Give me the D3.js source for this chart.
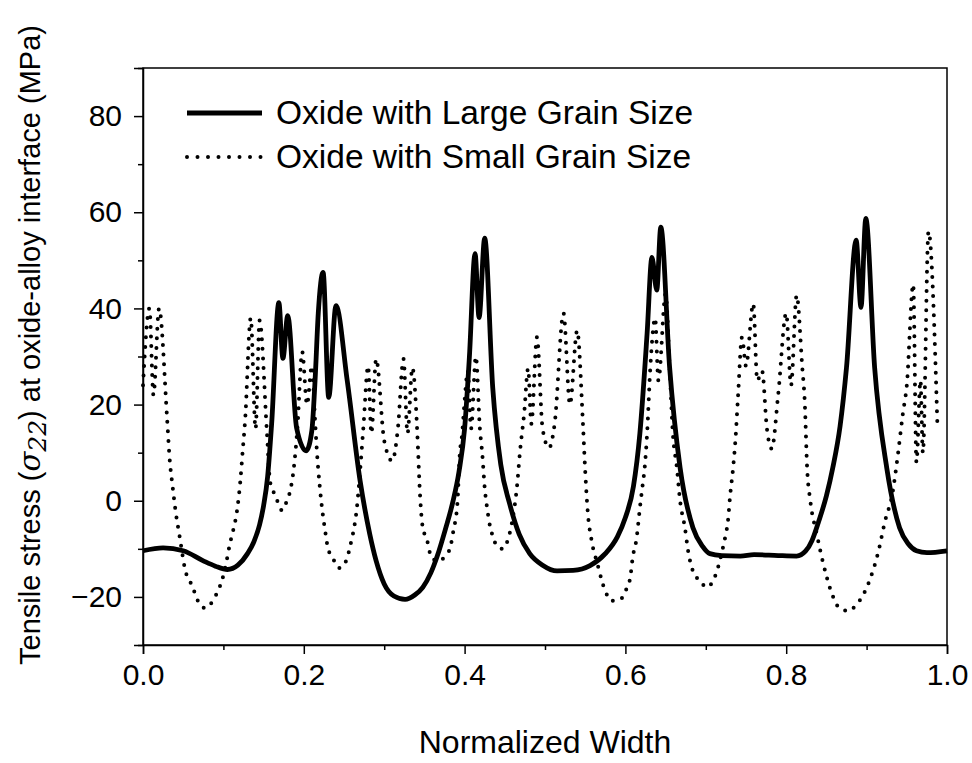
<!DOCTYPE html>
<html>
<head>
<meta charset="utf-8">
<script src="https://cdn.jsdelivr.net/npm/d3@7"></script>
<style>
  html, body { margin: 0; padding: 0; background: #fff; }
  text { font-family: "Liberation Sans", Arial, sans-serif; fill: #000; }
</style>
</head>
<body>
<svg id="chart" width="972" height="763"></svg>
<script>
// Normalized position across the width and interface stress (MPa)
const largeGrainX = [0.000, 0.025, 0.050, 0.075, 0.090, 0.105, 0.118, 0.130, 0.138, 0.145,
  0.150, 0.155, 0.160, 0.169, 0.174, 0.180, 0.191, 0.203, 0.210, 0.214, 0.218, 0.224,
  0.231, 0.240, 0.254, 0.270, 0.282, 0.290, 0.300, 0.312, 0.326, 0.338, 0.348, 0.358,
  0.366, 0.376, 0.385, 0.393, 0.400, 0.406, 0.413, 0.418, 0.425, 0.435, 0.445, 0.456,
  0.468, 0.481, 0.497, 0.515, 0.535, 0.556, 0.575, 0.590, 0.600, 0.610, 0.618, 0.627,
  0.633, 0.639, 0.644, 0.655, 0.668, 0.684, 0.696, 0.705, 0.720, 0.743, 0.760, 0.790,
  0.813, 0.824, 0.832, 0.840, 0.850, 0.858, 0.867, 0.875, 0.887, 0.893, 0.899, 0.910,
  0.925, 0.941, 0.952, 0.962, 0.975, 1.000];
const largeGrainStress = [-10.4, -9.8, -10.4, -12.5, -13.6, -14.3, -13.4, -11.0, -8.5, -5.0,
  -1.0, 5.0, 16.0, 41.2, 29.6, 38.5, 15.2, 10.4, 14.6, 25.0, 39.0, 47.5,
  21.5, 40.6, 25.0, 4.2, -6.9, -12.5, -17.3, -19.8, -20.5, -19.6, -18.0, -15.0,
  -11.5, -6.0, -0.5, 6.0, 15.0, 30.0, 51.4, 38.1, 54.6, 23.5, 7.5, -0.6,
  -7.0, -11.0, -13.4, -14.6, -14.5, -13.5, -11.0, -7.5, -3.5, 3.0, 14.0, 34.8,
  50.6, 43.8, 56.9, 27.7, 6.9, -5.6, -9.5, -11.0, -11.4, -11.5, -11.2, -11.4,
  -11.5, -10.5, -8.3, -4.5, 1.0, 6.9, 15.5, 27.7, 54.2, 40.2, 58.7, 27.7,
  6.9, -5.6, -9.0, -10.4, -10.8, -10.4];

const smallGrainX = [0.000, 0.008, 0.013, 0.020, 0.030, 0.033, 0.037, 0.040, 0.046, 0.052,
  0.062, 0.067, 0.077, 0.087, 0.093, 0.098, 0.104, 0.108, 0.112, 0.117, 0.121, 0.124,
  0.127, 0.134, 0.140, 0.145, 0.154, 0.158, 0.162, 0.167, 0.173, 0.179, 0.183, 0.187,
  0.192, 0.198, 0.204, 0.210, 0.214, 0.216, 0.220, 0.223, 0.226, 0.230, 0.236, 0.244,
  0.254, 0.257, 0.261, 0.266, 0.270, 0.274, 0.280, 0.284, 0.290, 0.300, 0.310, 0.317,
  0.324, 0.329, 0.335, 0.342, 0.344, 0.348, 0.353, 0.359, 0.367, 0.376, 0.382, 0.386,
  0.391, 0.394, 0.397, 0.400, 0.404, 0.408, 0.414, 0.419, 0.422, 0.425, 0.428, 0.432,
  0.435, 0.440, 0.447, 0.454, 0.460, 0.465, 0.469, 0.474, 0.479, 0.483, 0.490, 0.497,
  0.505, 0.512, 0.523, 0.531, 0.540, 0.547, 0.550, 0.553, 0.558, 0.565, 0.575, 0.583,
  0.596, 0.602, 0.606, 0.609, 0.614, 0.618, 0.621, 0.624, 0.627, 0.631, 0.637, 0.641,
  0.650, 0.655, 0.659, 0.664, 0.668, 0.674, 0.678, 0.684, 0.693, 0.701, 0.710, 0.715,
  0.721, 0.724, 0.728, 0.730, 0.734, 0.737, 0.740, 0.745, 0.750, 0.759, 0.764, 0.770,
  0.776, 0.782, 0.790, 0.800, 0.806, 0.813, 0.820, 0.823, 0.826, 0.830, 0.838, 0.846,
  0.857, 0.864, 0.876, 0.888, 0.902, 0.914, 0.923, 0.932, 0.939, 0.945, 0.950, 0.958,
  0.962, 0.967, 0.970, 0.977, 0.988];
const smallGrainStress = [24, 40, 22, 40, 17, 9, 2.7, -1.5, -7.9, -14,
  -18, -20.4, -22.3, -20.8, -18.8, -16.7, -12.5, -9, -6.3, -2, 4, 10.4,
  16.7, 38, 15, 37.5, 14.6, 4, 2, 0, -2, 0, 2, 6,
  15, 31, 20, 28, 16.7, 11, 2.7, -2, -5.6, -9.8, -11.9, -14,
  -12, -9.8, -7, -1.5, 6.2, 15, 28, 14, 29.5, 12.5, 8.3, 15,
  29.5, 14, 27.7, 11, 3, -5.6, -8, -11.9, -12.5, -11.5, -9.8, -6.3,
  -0.6, 9.7, 14, 20.8, 27, 15, 30, 15, 9.7, 2.7, -1.5, -5.6,
  -7.3, -9.4, -10, -8, -3.5, 2.7, 10.4, 18, 27.5, 16, 34, 15,
  11, 16, 39, 20, 35.4, 16.7, 6.2, -2, -8.3, -13, -18.8, -20.8,
  -20.2, -18, -16, -11.9, -7.7, -1.5, 2.7, 6.9, 14, 27.7, 38, 25,
  43, 27.7, 14, 6.9, 0, -5.6, -10.4, -14.6, -16.7, -18, -16.3, -14,
  -10, -7.7, -3.5, 0.6, 6.9, 13, 21.5, 34, 28, 41, 25, 27,
  15, 10.8, 22, 39, 24, 42.7, 27.7, 20.8, 6.9, 0, -6.9, -13,
  -19.4, -21.9, -22.9, -21.5, -17.3, -11, -4.2, 1.4, 9.7, 18, 24, 45,
  8, 25, 10, 56, 16];

const xTickValues = [0.0, 0.2, 0.4, 0.6, 0.8, 1.0];
const xMinorValues = [0.1, 0.3, 0.5, 0.7, 0.9];
const yTickValues = [-20, 0, 20, 40, 60, 80];
const yMinorValues = [-30, -10, 10, 30, 50, 70, 90];
const legendLabels = ["Oxide with Large Grain Size", "Oxide with Small Grain Size"];

const svg = d3.select("#chart");
const margin = { left: 143, right: 25, top: 68, bottom: 118 };
const W = 972, H = 763;
const x = d3.scaleLinear().domain([0, 1]).range([margin.left, W - margin.right]);
const y = d3.scaleLinear().domain([-30, 90]).range([H - margin.bottom, margin.top]);

const tickFont = 30;

// frame
svg.append("rect")
  .attr("x", x(0)).attr("y", y(90))
  .attr("width", x(1) - x(0)).attr("height", y(-30) - y(90))
  .attr("fill", "none").attr("stroke", "#000").attr("stroke-width", 1.5);

// x axis
const xAxis = d3.axisBottom(x).tickValues(xTickValues).tickSize(9).tickPadding(10)
  .tickFormat(d3.format(".1f"));
const gx = svg.append("g").attr("transform", `translate(0,${y(-30)})`).call(xAxis);
gx.select(".domain").attr("stroke-width", 1.5);
gx.selectAll(".tick line").attr("stroke-width", 1.5);
gx.selectAll(".tick text").attr("font-size", tickFont).attr("font-family", "Liberation Sans, Arial, sans-serif");
svg.append("g").attr("transform", `translate(0,${y(-30)})`)
  .call(d3.axisBottom(x).tickValues(xMinorValues).tickSize(5).tickFormat(""))
  .call(g => g.select(".domain").remove())
  .selectAll(".tick line").attr("stroke-width", 1.5);

// y axis
const yAxis = d3.axisLeft(y).tickValues(yTickValues).tickSize(9).tickPadding(12);
const gy = svg.append("g").attr("transform", `translate(${x(0)},0)`).call(yAxis);
gy.select(".domain").attr("stroke-width", 1.5);
gy.selectAll(".tick line").attr("stroke-width", 1.5);
gy.selectAll(".tick text").attr("font-size", tickFont).attr("font-family", "Liberation Sans, Arial, sans-serif");
svg.append("g").attr("transform", `translate(${x(0)},0)`)
  .call(d3.axisLeft(y).tickValues(yMinorValues).tickSize(5).tickFormat(""))
  .call(g => g.select(".domain").remove())
  .selectAll(".tick line").attr("stroke-width", 1.5);

// axis titles
svg.append("text")
  .attr("x", (x(0) + x(1)) / 2).attr("y", 753)
  .attr("text-anchor", "middle").attr("font-size", 32)
  .text("Normalized Width");

const yTitle = svg.append("text")
  .attr("transform", `translate(40,345) rotate(-90)`)
  .attr("text-anchor", "middle").attr("font-size", 29);
yTitle.append("tspan").text("Tensile stress (");
yTitle.append("tspan").attr("font-family", "DejaVu Serif, serif").attr("font-style", "italic").text("σ");
yTitle.append("tspan").attr("font-family", "DejaVu Serif, serif").attr("font-style", "italic")
  .attr("font-size", 25).attr("dy", 6).text("22");
yTitle.append("tspan").attr("dy", -6).text(") at oxide-alloy interface (MPa)");

// series
const toPoints = (xs, ys) => xs.map((v, i) => [v, ys[i]]);
const line = d3.line().x(d => x(d[0])).y(d => y(d[1])).curve(d3.curveMonotoneX);

svg.append("path")
  .datum(toPoints(smallGrainX, smallGrainStress))
  .attr("d", line)
  .attr("fill", "none").attr("stroke", "#000")
  .attr("stroke-width", 4).attr("stroke-linecap", "round")
  .attr("stroke-dasharray", "0,9.6");

svg.append("path")
  .datum(toPoints(largeGrainX, largeGrainStress))
  .attr("d", line)
  .attr("fill", "none").attr("stroke", "#000")
  .attr("stroke-width", 4.8).attr("stroke-linejoin", "round");

// legend
const legend = svg.append("g");
legendLabels.forEach((label, i) => {
  const ly = 113 + i * 44;
  legend.append("line")
    .attr("x1", 187).attr("x2", 262).attr("y1", ly).attr("y2", ly)
    .attr("stroke", "#000")
    .attr("stroke-width", i === 0 ? 4.8 : 4)
    .attr("stroke-linecap", i === 0 ? "butt" : "round")
    .attr("stroke-dasharray", i === 0 ? null : "0,10.5");
  legend.append("text")
    .attr("x", 276).attr("y", ly + 11)
    .attr("font-size", 33.5)
    .text(label);
});
</script>
</body>
</html>
